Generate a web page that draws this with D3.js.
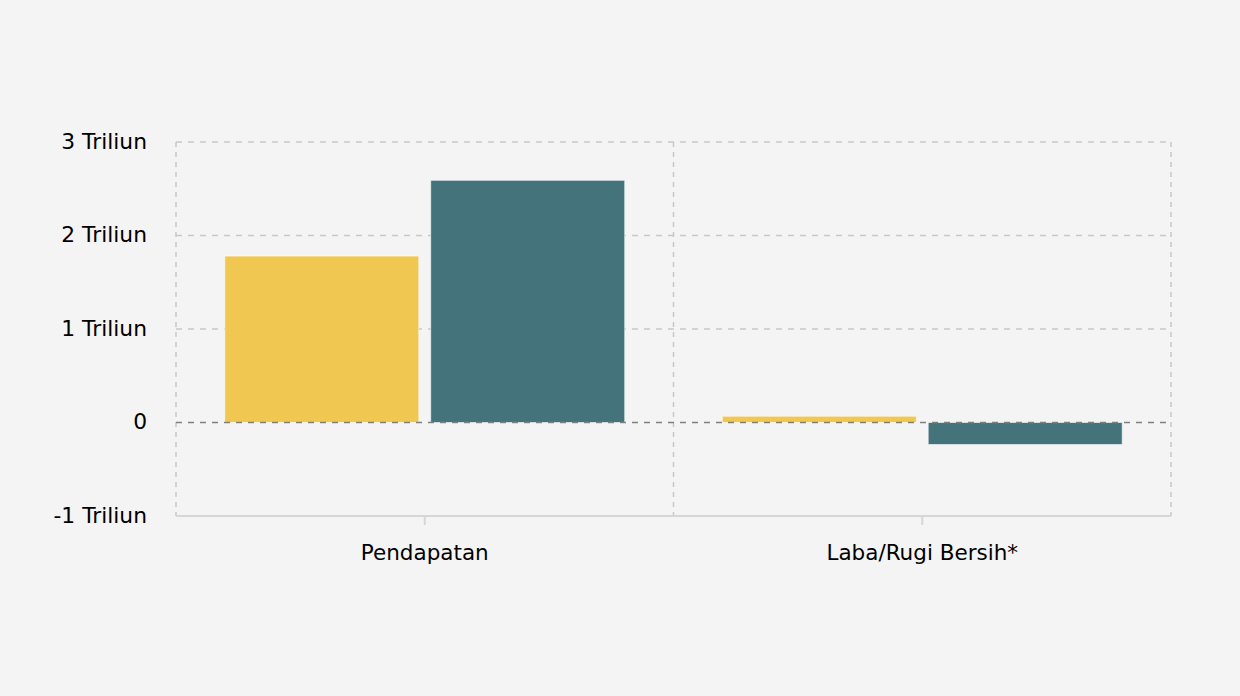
<!DOCTYPE html>
<html>
<head>
<meta charset="utf-8">
<script src="https://cdn.jsdelivr.net/npm/d3@7"></script>
<style>
  body { margin: 0; background: #f4f4f4; }
  svg { display: block; font-family: "DejaVu Sans", Verdana, sans-serif; }
</style>
</head>
<body>
<div class="chart"></div>
<script>
const categories = ['Pendapatan', 'Laba/Rugi Bersih*'];
const series = ['2022', '2023'];
const values2022 = [1.78, 0.067];
const values2023 = [2.59, -0.235];
const yTicks = [-1, 0, 1, 2, 3];
const yTickLabels = ['-1 Triliun', '0', '1 Triliun', '2 Triliun', '3 Triliun'];
const colors = ['#f0c751', '#44737c'];

const width = 1240;
const height = 696;
const margin = { top: 142, right: 69, bottom: 180, left: 176 };

const svg = d3.select('.chart')
    .append('svg')
    .attr('width', width)
    .attr('height', height)

const x0 = d3.scaleBand()
    .domain(categories)
    .range([margin.left, width - margin.right])
    .padding(0)

const x1 = d3.scaleBand()
    .domain(series)
    .range([0, x0.bandwidth()])
    .paddingInner(0.058)
    .paddingOuter(0.237)

const y = d3.scaleLinear()
    .domain([-1, 3])
    .range([height - margin.bottom, margin.top])

// grid
svg.append('g')
    .selectAll('line')
    .data(yTicks.filter(d => d !== 0 && d !== -1))
    .enter()
    .append('line')
    .attr('x1', margin.left)
    .attr('x2', width - margin.right)
    .attr('y1', d => y(d))
    .attr('y2', d => y(d))
    .attr('stroke', '#c8c8c8')
    .attr('stroke-width', 1.5)
    .attr('stroke-dasharray', '6,6')

const xBounds = [margin.left, x0(categories[1]), width - margin.right];
svg.append('g')
    .selectAll('line')
    .data(xBounds)
    .enter()
    .append('line')
    .attr('x1', d => d)
    .attr('x2', d => d)
    .attr('y1', y(3))
    .attr('y2', y(-1))
    .attr('stroke', '#c8c8c8')
    .attr('stroke-width', 1.5)
    .attr('stroke-dasharray', '5,5')

// bars
const rows = categories.map((c, i) => ({ cat: c, vals: [values2022[i], values2023[i]] }));
const groups = svg.selectAll('.grp')
    .data(rows)
    .enter()
    .append('g')
    .attr('transform', d => `translate(${x0(d.cat)},0)`)

groups.selectAll('rect')
    .data(d => d.vals.map((v, j) => ({ s: series[j], v: v, j: j })))
    .enter()
    .append('rect')
    .attr('x', d => x1(d.s))
    .attr('width', x1.bandwidth())
    .attr('y', d => y(Math.max(0, d.v)))
    .attr('height', d => Math.abs(y(d.v) - y(0)))
    .attr('fill', d => colors[d.j])
    .attr('stroke', 'rgba(255,255,255,0.55)')
    .attr('stroke-width', 1)

// zero line
svg.append('line')
    .attr('x1', margin.left)
    .attr('x2', width - margin.right)
    .attr('y1', y(0))
    .attr('y2', y(0))
    .attr('stroke', '#808080')
    .attr('stroke-width', 1.5)
    .attr('stroke-dasharray', '6,6')

// y axis labels
svg.append('g')
    .selectAll('text')
    .data(yTicks)
    .enter()
    .append('text')
    .attr('x', margin.left - 29)
    .attr('y', d => y(d))
    .attr('dy', '0.3em')
    .attr('text-anchor', 'end')
    .attr('font-size', 21.8)
    .attr('fill', '#000')
    .text((d, i) => yTickLabels[i])

// x axis
const xAxis = svg.append('g')
    .attr('transform', `translate(0,${y(-1)})`)
    .call(d3.axisBottom(x0).tickSize(9).tickPadding(20))
xAxis.select('.domain')
    .attr('stroke', '#d6d6d6')
    .attr('stroke-width', 2)
    .attr('d', `M${margin.left},0H${width - margin.right}`)
xAxis.selectAll('.tick line')
    .attr('stroke', '#d6d6d6')
    .attr('stroke-width', 2)
xAxis.selectAll('.tick text')
    .attr('font-size', 21.5)
    .attr('font-family', '"DejaVu Sans", Verdana, sans-serif')
    .attr('fill', '#000')
</script>
</body>
</html>
